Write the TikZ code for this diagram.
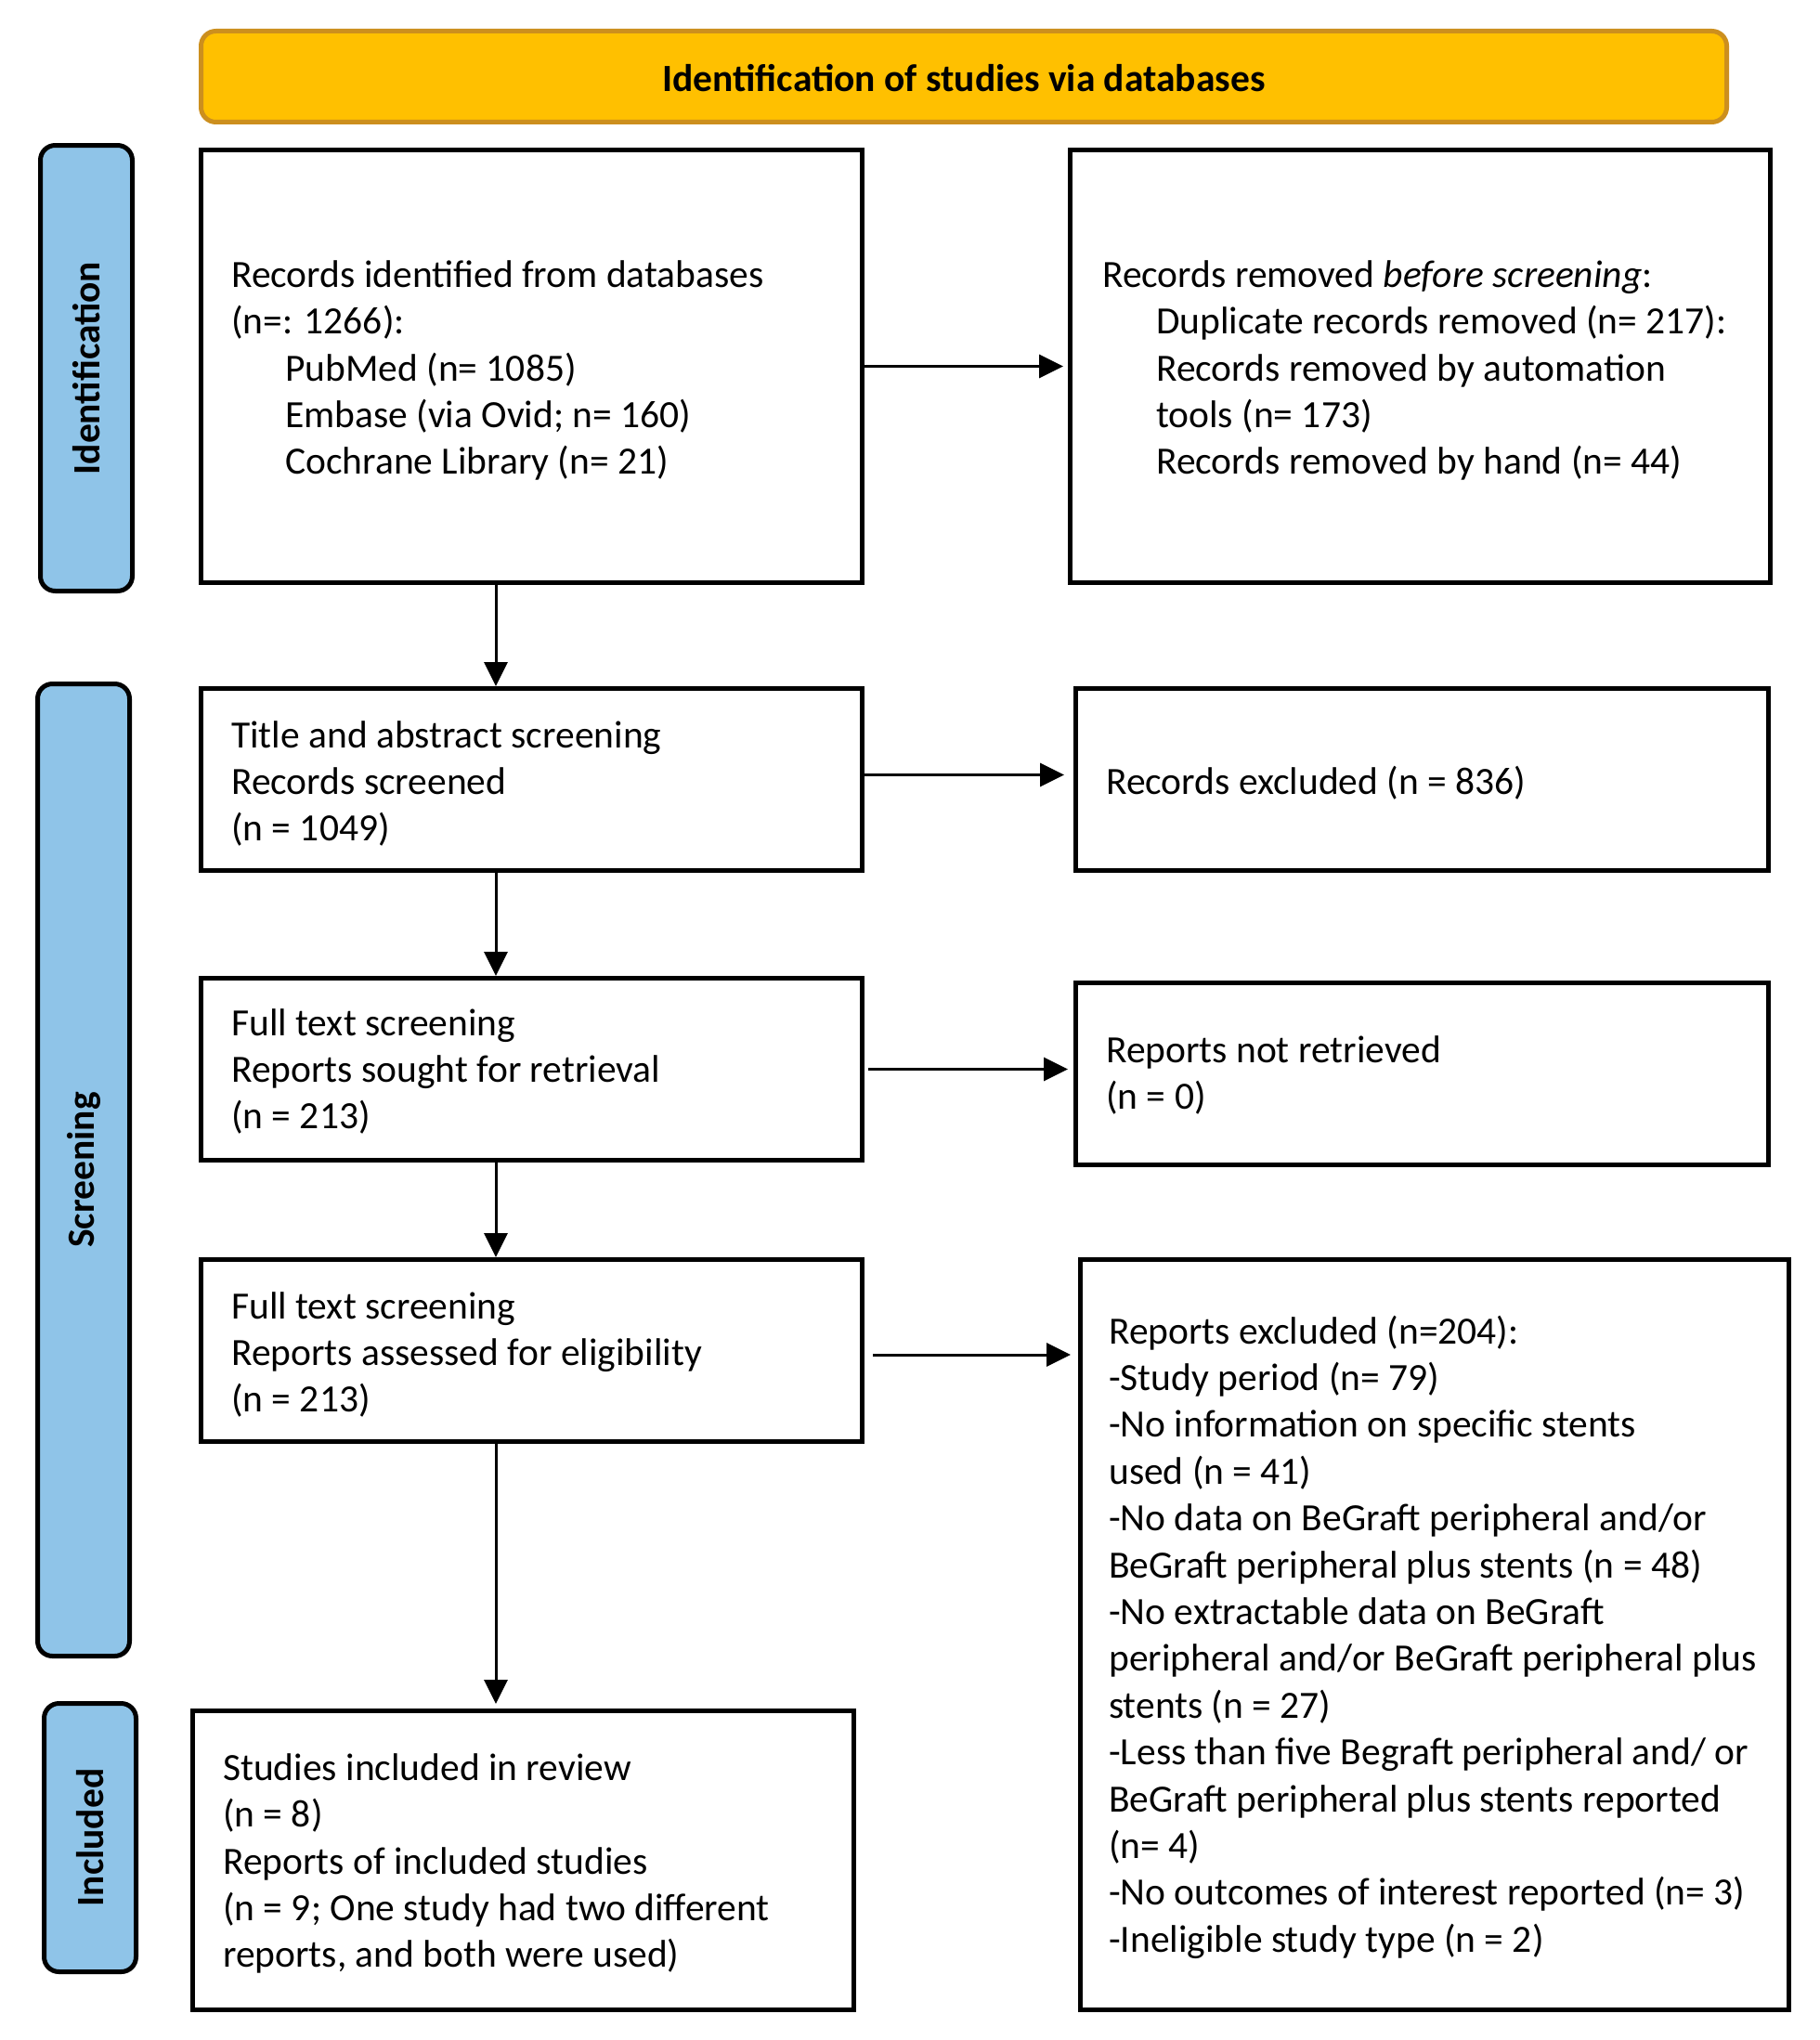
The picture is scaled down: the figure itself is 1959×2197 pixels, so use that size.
\documentclass[tikz,border=0pt]{standalone}
\usepackage{fontspec}
\setmainfont{Carlito}
\usetikzlibrary{arrows.meta}
\definecolor{hdrfill}{RGB}{255,192,0}
\definecolor{hdrline}{RGB}{204,143,30}
\definecolor{sidefill}{RGB}{143,196,232}
\newcommand{\bodyfont}{\fontsize{41.5}{50.4}\selectfont}
\begin{document}
\begin{tikzpicture}[x=1pt,y=-1pt,
  box/.style={draw=black,line width=5pt,inner sep=0pt},
  side/.style={draw=black,fill=sidefill,line width=5pt,rounded corners=16pt,inner sep=0pt,minimum width=99pt},
  hdr/.style={draw=hdrline,fill=hdrfill,line width=5pt,rounded corners=16pt,inner sep=0pt},
  txt/.style={anchor=west,align=left,inner sep=0pt,font=\bodyfont},
  sidelbl/.style={rotate=90,inner sep=0pt,font=\bodyfont\bfseries},
  arr/.style={line width=3pt,-{Triangle[length=26pt,width=25pt]}}]
\useasboundingbox (0,0) rectangle (1959,2197);

% header
\node[hdr,minimum width=1643pt,minimum height=98pt] (hdr) at (1038,82.5) {};
\node[font=\bodyfont\bfseries,inner sep=0pt] (hdrt) at ([yshift=-2pt]hdr.center) {Identification of studies via databases};

% side bars
\node[side,minimum height=480pt] (sid) at (93,396.5) {};
\node[sidelbl] (sidt) at (sid.center) {Identification};
\node[side,minimum height=1047pt] (sscr) at (90,1260) {};
\node[sidelbl] (sscrt) at (sscr.center) {Screening};
\node[side,minimum height=289pt] (sinc) at (97,1979) {};
\node[sidelbl] (sinct) at (sinc.center) {Included};

% boxes
\node[box,minimum width=712pt,minimum height=466pt] (b1) at (572.5,394.5) {};
\node[box,minimum width=754pt,minimum height=466pt] (b2) at (1529.5,394.5) {};
\node[box,minimum width=712pt,minimum height=196pt] (b3) at (572.5,839.5) {};
\node[box,minimum width=746pt,minimum height=196pt] (b4) at (1531.5,839.5) {};
\node[box,minimum width=712pt,minimum height=196pt] (b5) at (572.5,1151.5) {};
\node[box,minimum width=746pt,minimum height=196pt] (b6) at (1531.5,1156.5) {};
\node[box,minimum width=712pt,minimum height=196pt] (b7) at (572.5,1454.5) {};
\node[box,minimum width=763pt,minimum height=808pt] (b8) at (1545,1760.5) {};
\node[box,minimum width=712pt,minimum height=322pt] (b9) at (563.5,2003.5) {};

% texts
\node[txt] (t1) at (249,399) {Records identified from databases\\(n=: 1266):\\\hspace*{58pt}PubMed (n= 1085)\\\hspace*{58pt}Embase (via Ovid; n= 160)\\\hspace*{58pt}Cochrane Library (n= 21)};
\node[txt] (t2) at (1187,399) {Records removed \textit{before screening}:\\\hspace*{58pt}Duplicate records removed (n= 217):\\\hspace*{58pt}Records removed by automation\\\hspace*{58pt}tools (n= 173)\\\hspace*{58pt}Records removed by hand (n= 44)};
\node[txt] (t3) at (249,844) {Title and abstract screening\\Records screened\\(n = 1049)};
\node[txt] (t4) at (1191,843) {Records excluded (n = 836)};
\node[txt] (t5) at (249,1154) {Full text screening\\Reports sought for retrieval\\(n = 213)};
\node[txt] (t6) at (1191,1158) {Reports not retrieved\\(n = 0)};
\node[txt] (t7) at (249,1459) {Full text screening\\Reports assessed for eligibility\\(n = 213)};
\node[txt] (t8) at (1194,1763) {Reports excluded (n=204):\\-Study period (n= 79)\\-No information on specific stents\\used (n = 41)\\-No data on BeGraft peripheral and/or\\BeGraft peripheral plus stents (n = 48)\\-No extractable data on BeGraft\\peripheral and/or BeGraft peripheral plus\\stents (n = 27)\\-Less than five Begraft peripheral and/ or\\BeGraft peripheral plus stents reported\\(n= 4)\\-No outcomes of interest reported (n= 3)\\-Ineligible study type (n = 2)};
\node[txt] (t9) at (240,2007) {Studies included in review\\(n = 8)\\Reports of included studies\\(n = 9; One study had two different\\reports, and both were used)};

% arrows
\coordinate (vx) at (534,0);
\draw[arr] (b1.south -| vx) -- (b3.north -| vx);
\draw[arr] (b3.south -| vx) -- (b5.north -| vx);
\draw[arr] (b5.south -| vx) -- (b7.north -| vx);
\draw[arr,shorten >=5pt] (b7.south -| vx) -- (b9.north -| vx);
\draw[arr,shorten >=5pt] (b1.east) -- (b1.east -| b2.west);
\draw[arr,shorten >=10pt] ([yshift=5pt]b3.east) -- ([yshift=5pt]b3.east -| b4.west);
\draw[arr,shorten <=4pt,shorten >=6pt] (b5.east) -- (b5.east -| b6.west);
\draw[arr,shorten <=9pt,shorten >=8pt] ([yshift=-4.5pt]b7.east) -- ([yshift=-4.5pt]b7.east -| b8.west);
\end{tikzpicture}
\end{document}
